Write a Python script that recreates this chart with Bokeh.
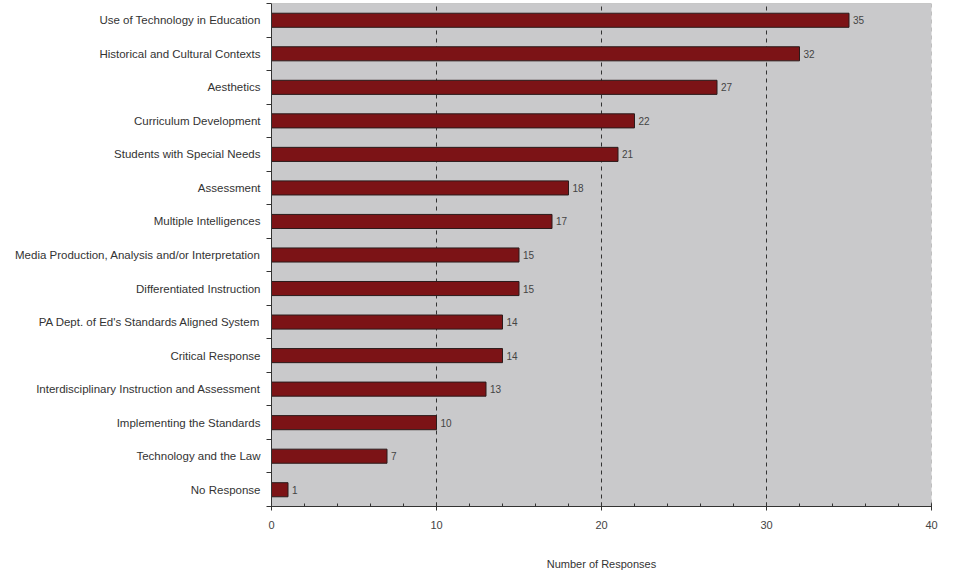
from bokeh.plotting import figure
from bokeh.models import FixedTicker, ColumnDataSource, Span, Range1d, LabelSet
from bokeh.core.properties import value
from bokeh.embed import file_html
from bokeh.resources import INLINE

categories = [
    "Use of Technology in Education",
    "Historical and Cultural Contexts",
    "Aesthetics",
    "Curriculum Development",
    "Students with Special Needs",
    "Assessment",
    "Multiple Intelligences",
    "Media Production, Analysis and/or Interpretation",
    "Differentiated Instruction",
    "PA Dept. of Ed's Standards Aligned System",
    "Critical Response",
    "Interdisciplinary Instruction and Assessment",
    "Implementing the Standards",
    "Technology and the Law",
    "No Response",
]
responses = [35, 32, 27, 22, 21, 18, 17, 15, 15, 14, 14, 13, 10, 7, 1]
x_ticks = [0, 10, 20, 30, 40]

FONT = "Liberation Sans"
n = len(categories)
ypos = [n - i - 0.5 for i in range(n)]
src = ColumnDataSource(dict(y=ypos, v=responses, lab=[str(v) for v in responses]))

p = figure(width=957, height=575, output_backend="svg", toolbar_location=None,
           x_range=Range1d(0, 40), y_range=Range1d(0, n),
           min_border_left=271, min_border_right=26, min_border_top=3, min_border_bottom=69)
p.background_fill_color = "#C9C9CB"
p.border_fill_color = "white"
p.outline_line_color = None

p.hbar(y="y", right="v", left=0, height=0.42, source=src,
       fill_color="#7C1316", line_color="#2B1B1B", line_width=1)

labels = LabelSet(x="v", y="y", text="lab", source=src, x_offset=4, y_offset=0,
                  text_baseline="middle", text_font=value(FONT), text_font_size="10px",
                  text_color="#444444")
p.add_layout(labels)

# y axis
p.yaxis.ticker = FixedTicker(ticks=ypos, minor_ticks=list(range(0, n + 1)))
p.yaxis.major_label_overrides = {y: c for y, c in zip(ypos, categories)}
p.yaxis.major_tick_out = 0
p.yaxis.major_tick_in = 0
p.yaxis.minor_tick_out = 5
p.yaxis.minor_tick_in = 0
p.yaxis.major_label_text_font = FONT
p.yaxis.major_label_text_font_size = "11.5px"
p.yaxis.major_label_text_color = "#333333"
p.yaxis.major_label_standoff = 6
p.yaxis.axis_line_color = "#333333"
p.yaxis.minor_tick_line_color = "#333333"

# x axis
p.xaxis.ticker = FixedTicker(ticks=x_ticks, minor_ticks=list(range(0, 41, 2)))
p.xaxis.major_tick_in = 4
p.xaxis.major_tick_out = 4
p.xaxis.minor_tick_in = 3
p.xaxis.minor_tick_out = 0
p.xaxis.major_label_text_font = FONT
p.xaxis.major_label_text_font_size = "11px"
p.xaxis.major_label_text_color = "#444444"
p.xaxis.major_label_standoff = 10
p.xaxis.axis_label = "Number of Responses"
p.xaxis.axis_label_text_font = FONT
p.xaxis.axis_label_text_font_size = "11px"
p.xaxis.axis_label_text_font_style = "normal"
p.xaxis.axis_label_text_color = "#333333"
p.xaxis.axis_label_standoff = 26
p.xaxis.axis_line_color = "#333333"
p.xaxis.major_tick_line_color = "#333333"
p.xaxis.minor_tick_line_color = "#333333"

p.ygrid.grid_line_color = None
p.xgrid.ticker = FixedTicker(ticks=[10, 20, 30])
p.xgrid.grid_line_color = "#333333"
p.xgrid.grid_line_dash = "4 4"
p.xgrid.grid_line_width = 1

p.add_layout(Span(location=40, dimension="height", line_color="#999999",
                  line_dash="4 4", line_width=1))
p.add_layout(Span(location=n, dimension="width", line_color="#AAAAAA", line_width=1))

open("out.html", "w").write(file_html(p, INLINE))
